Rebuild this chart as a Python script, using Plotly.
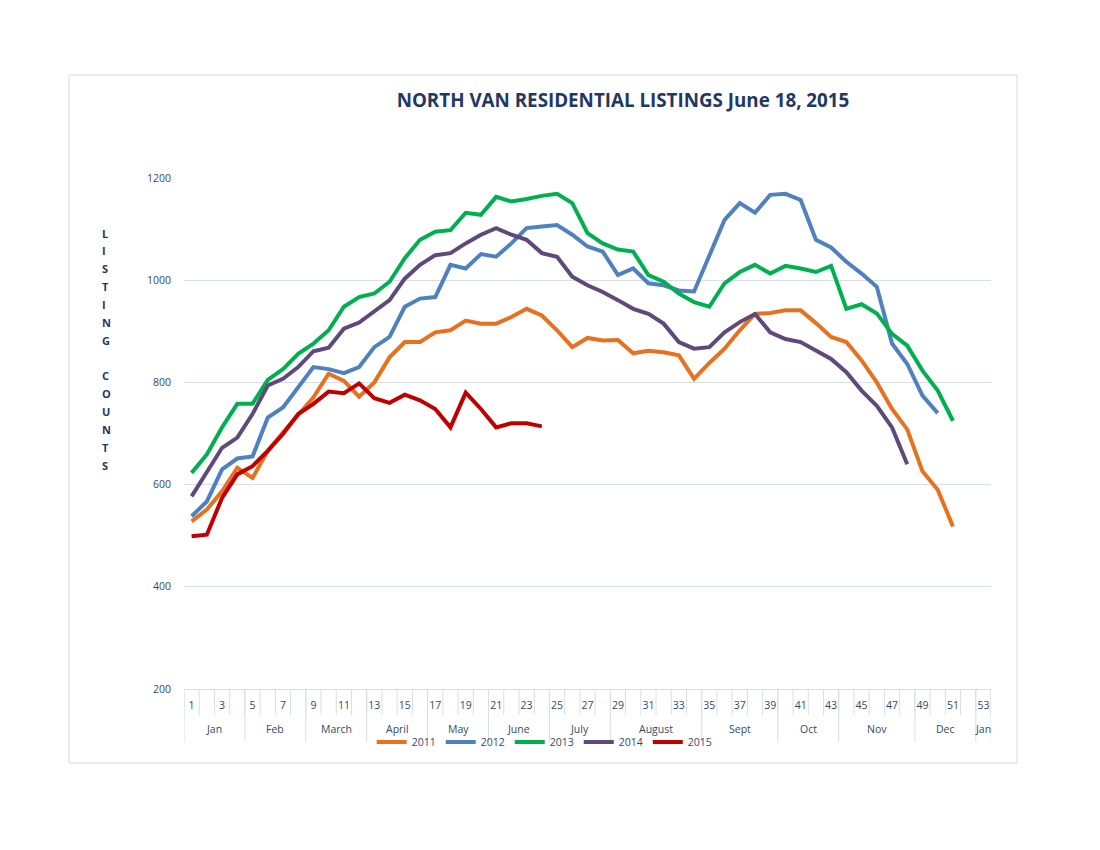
import plotly.graph_objects as go

# weekly listing counts
weeks = list(range(1, 54))
y2011 = [528, 551, 587, 633, 613, 666, 702, 738, 771, 817, 803, 772, 800, 849, 879, 879, 898, 902, 921, 915,
         915, 928, 944, 931, 902, 869, 887, 882, 883, 857, 862, 859, 853, 807, 838, 866, 902, 934, 936, 941,
         941, 916, 889, 879, 843, 800, 748, 708, 626, 590, 518]
y2012 = [538, 567, 630, 651, 655, 731, 751, 790, 830, 826, 818, 830, 869, 889, 948, 964, 967, 1030, 1023, 1051,
         1046, 1072, 1102, 1105, 1108, 1089, 1066, 1056, 1010, 1023, 994, 990, 980, 978, 1046, 1118, 1151, 1132,
         1167, 1169, 1157, 1079, 1064, 1036, 1013, 987, 876, 836, 774, 740]
y2013 = [623, 659, 712, 758, 758, 805, 826, 856, 876, 902, 948, 967, 974, 997, 1043, 1079, 1095, 1098, 1132, 1128,
         1163, 1154, 1159, 1165, 1169, 1151, 1092, 1072, 1060, 1056, 1010, 997, 974, 957, 948, 994, 1016, 1030,
         1013, 1028, 1023, 1016, 1028, 944, 953, 935, 895, 872, 823, 784, 725]
y2014 = [577, 623, 672, 692, 738, 794, 807, 830, 861, 868, 905, 917, 938, 961, 1003, 1030, 1049, 1053, 1072, 1089,
         1102, 1089, 1079, 1053, 1046, 1007, 990, 977, 961, 944, 934, 915, 879, 866, 869, 898, 918, 934, 898, 885,
         879, 862, 846, 820, 784, 754, 712, 640]
y2015 = [499, 502, 574, 620, 636, 666, 699, 738, 758, 782, 779, 798, 769, 760, 776, 765, 748, 712, 780, 748,
         712, 720, 720, 714]

years = ["2011", "2012", "2013", "2014", "2015"]
colors = ["#E8711F", "#4F81BD", "#00B050", "#5F497A", "#C00000"]

month_names = ["Jan", "Feb", "March", "April", "May", "June", "July", "August", "Sept", "Oct", "Nov", "Dec", "Jan"]
month_weeks = [4, 4, 4, 4, 4, 4, 4, 6, 5, 4, 5, 4, 1]

y_ticks = [200, 400, 600, 800, 1000, 1200]
y_label = "LISTING COUNTS"

navy = "#1F3864"
tick_col = "#34496A"
grid_col = "#D9DEE8"
font = "Open Sans"

fig = go.Figure()
for name, col, ys in zip(years, colors, [y2011, y2012, y2013, y2014, y2015]):
    fig.add_trace(go.Scatter(x=weeks[:len(ys)], y=ys, mode="lines", name=name,
                             line=dict(color=col, width=4)))

# page has an 8px body margin, so pixel positions below are shifted by it
off = 8
plot_w, plot_h = 807, 511

shapes = []
# week cell dividers under the axis
for b in range(0, 54):
    shapes.append(dict(type="line", xref="x", yref="paper", x0=b + 0.5, x1=b + 0.5, y0=0, y1=-26 / plot_h,
                       line=dict(color=grid_col, width=1)))
# month dividers and labels
annotations = []
start = 0
for m, n in zip(month_names, month_weeks):
    shapes.append(dict(type="line", xref="x", yref="paper", x0=start + 0.5, x1=start + 0.5,
                       y0=0, y1=-53 / plot_h, line=dict(color=grid_col, width=1)))
    annotations.append(dict(x=start + 0.5 + n / 2, y=-40 / plot_h, xref="x", yref="paper", text=m,
                            yanchor="middle", showarrow=False,
                            font=dict(size=10.5, color=tick_col, family=font)))
    start += n
shapes.append(dict(type="line", xref="x", yref="paper", x0=start + 0.5, x1=start + 0.5,
                   y0=0, y1=-53 / plot_h, line=dict(color=grid_col, width=1)))

# outer chart border
shapes.append(dict(type="rect", xref="paper", yref="paper", x0=-115 / plot_w, x1=833 / plot_w,
                   y0=-74 / plot_h, y1=614 / plot_h, line=dict(color="#D9D9D9", width=1), layer="below"))

# stacked vertical axis title
for i, ch in enumerate(y_label):
    if ch == " ":
        continue
    annotations.append(dict(x=-84 / plot_w, y=(456 - i * 17.85) / plot_h, xref="paper", yref="paper", text=ch,
                            yanchor="middle", showarrow=False,
                            font=dict(size=11, color=navy, family=font, weight="bold")))

fig.update_layout(
    width=1100, height=850,
    margin=dict(l=184 - off, r=109 + off, t=178 - off, b=161 + off),
    paper_bgcolor="white", plot_bgcolor="white",
    title=dict(text="NORTH VAN RESIDENTIAL LISTINGS June 18, 2015", x=(623 - off) / 1100, xanchor="center",
               y=1 - (100 - off) / 850, yanchor="middle",
               font=dict(size=18.8, color=navy, family=font, weight="bold")),
    xaxis=dict(range=[0.5, 53.5], tickvals=weeks[::2], showgrid=False, zeroline=False,
               showline=True, linecolor=grid_col, ticks="", ticklabelstandoff=6,
               tickfont=dict(size=10.5, color=tick_col, family=font)),
    yaxis=dict(range=[200, 1200], tickvals=y_ticks, showgrid=True, gridcolor=grid_col, zeroline=False,
               ticks="", ticklabelstandoff=12, tickfont=dict(size=10.5, color=tick_col, family=font)),
    legend=dict(orientation="h", x=0.447, xanchor="center", y=-53 / plot_h, yanchor="middle",
                font=dict(size=10.5, color=tick_col, family=font), itemwidth=30, tracegroupgap=0,
                bgcolor="rgba(0,0,0,0)"),
    shapes=shapes, annotations=annotations,
    showlegend=True,
)

fig.write_html("out.html")
